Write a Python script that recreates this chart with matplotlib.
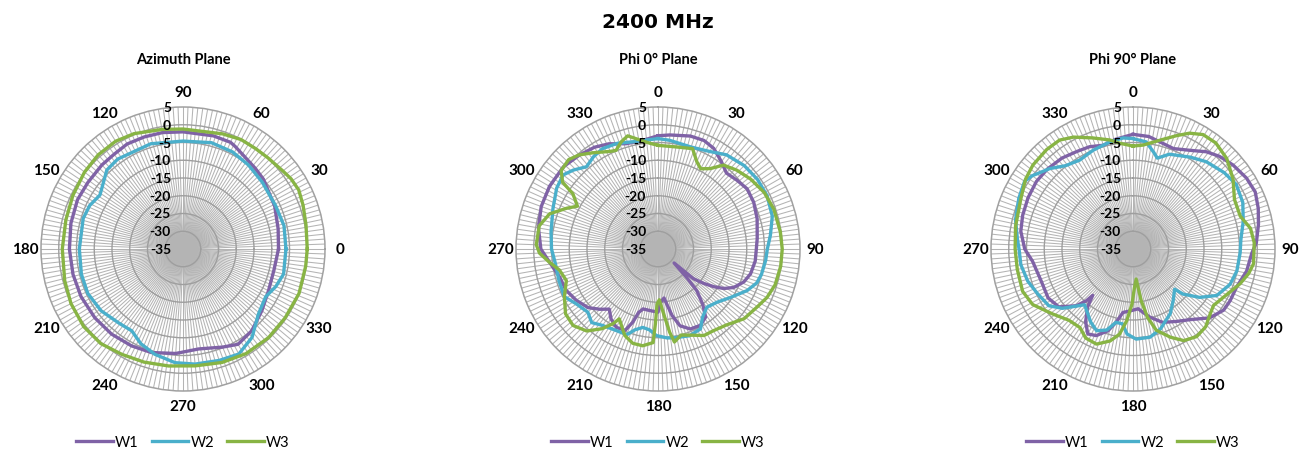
import numpy as np
import matplotlib.pyplot as plt
from matplotlib.transforms import offset_copy

plt.rcParams['font.family'] = ['Lato', 'DejaVu Sans']

# colours of the three series
W1_COLOR = '#7F62A6'
W2_COLOR = '#4AAFCB'
W3_COLOR = '#88B444'
series_names = ['W1', 'W2', 'W3']

# ---- Azimuth plane (angle deg, ccw from right), gain in dB ----
az_w1_ang = [0, 12, 25, 41, 48, 55, 63, 66, 75, 90, 100, 109, 118, 126, 134, 145, 155, 167, 180,
             193, 205, 218, 230, 242, 253, 266, 279, 292, 300, 310, 322, 334, 347]
az_w1_db = [-8.1, -7.6, -6.5, -5.0, -4.5, -3.9, -2.6, -2.1, -2.0, -2.0, -1.7, -1.6, -1.5, -2.0, -2.1,
            -2.3, -2.2, -2.6, -3.0, -3.2, -3.3, -3.5, -3.7, -4.1, -4.5, -5.5, -6.5, -5.2, -4.0, -4.9,
            -6.8, -8.2, -8.7]
az_w2_ang = [0, 13, 25, 40, 52, 63, 75, 90, 107, 126, 134, 142, 147, 155, 163, 180, 194, 205, 217,
             229, 238, 246, 255, 266, 276, 288, 298, 308, 319, 330, 338, 346]
az_w2_db = [-6.0, -5.8, -6.2, -5.8, -5.0, -4.3, -4.0, -4.6, -4.0, -3.7, -4.1, -6.2, -7.1, -6.0, -5.6,
            -5.8, -5.5, -5.4, -6.1, -7.4, -7.8, -5.8, -4.3, -2.9, -2.4, -2.0, -1.5, -3.4, -6.9, -8.1,
            -6.8, -5.8]
az_w3_ang = [0, 11, 20, 27, 33, 38, 47, 54, 62, 71, 90, 100, 113, 122, 132, 142, 154, 166, 180, 195,
             206, 218, 229, 240, 251, 263, 276, 289, 301, 314, 326, 339, 352]
az_w3_db = [0.0, 0.3, 1.0, 1.6, 1.3, 0.7, 0.1, -0.1, -0.1, -0.7, -1.2, -0.8, 0.3, 0.8, 0.7, 0.2, -0.5,
            -1.0, -1.0, -0.5, 0.1, 0.5, 0.3, -0.7, -1.3, -1.8, -1.9, -1.2, -0.6, -0.3, -0.3, 0.0, -0.1]

# ---- Phi 0 plane (angle deg, clockwise from top) ----
p0_w1_ang = [0, 6, 16, 23, 29, 36, 42, 49, 56, 64, 73, 84, 90, 97, 105, 111, 117, 121, 124, 127, 130,
             131, 135, 137, 141, 145, 151, 158, 164, 168, 171, 173, 177, 180, 187, 194, 197, 199, 202,
             208, 214, 219, 224, 230, 238, 246, 254, 262, 270, 280, 290, 300, 311, 320, 328, 335, 343,
             352]
p0_w1_db = [-3.1, -2.7, -1.9, -1.8, -2.6, -4.6, -6.2, -5.5, -4.7, -5.0, -5.8, -6.9, -7.3, -7.4, -8.0,
            -9.1, -11.1, -13.4, -16.0, -18.9, -22.0, -29.0, -23.3, -19.0, -15.0, -11.6, -10.4, -10.7,
            -12.5, -15.8, -19.3, -21.1, -20.0, -17.2, -17.5, -17.6, -16.3, -13.2, -10.3, -10.0, -11.3,
            -13.2, -11.4, -9.3, -7.8, -6.6, -6.2, -4.5, -2.0, -0.8, 0.0, 0.3, 0.3, -0.5, -1.2, -2.3,
            -4.0, -4.1]
p0_w2_ang = [0, 6, 18, 28, 36, 46, 55, 64, 74, 83, 90, 96, 104, 109, 115, 124, 132, 140, 147, 152,
             160, 168, 174, 181, 186, 191, 196, 200, 207, 216, 222, 228, 236, 243, 252, 262, 270, 279,
             291, 301, 308, 313, 319, 325, 331, 339, 347]
p0_w2_db = [-3.9, -4.2, -4.8, -3.9, -2.2, -1.2, -0.8, -0.8, -1.5, -3.1, -4.2, -4.5, -5.0, -5.6, -7.3,
            -10.5, -12.6, -13.6, -12.0, -9.5, -9.0, -9.5, -9.8, -10.6, -12.1, -12.5, -11.3, -9.3, -9.2,
            -8.4, -7.1, -8.4, -7.3, -5.4, -5.7, -5.8, -5.0, -4.5, -3.3, -1.7, -1.1, -2.4, -4.3, -3.3,
            -2.7, -3.1, -4.0]
p0_w3_ang = [0, 10, 19, 24, 28, 33, 38, 45, 53, 62, 71, 82, 90, 98, 107, 114, 120, 129, 138, 146,
             152, 159, 165, 170, 172, 175, 178.5, 181, 182, 183, 189, 195, 201, 209, 211, 215, 221,
             228, 235, 243, 251, 258, 263, 268, 272, 281, 288, 294, 298, 303, 305, 309, 315, 320, 326,
             334, 337, 341, 345, 351, 356]
p0_w3_db = [-5.8, -5.8, -5.1, -8.1, -9.4, -8.0, -5.0, -3.6, -2.3, -1.1, -0.5, -0.2, 0.0, -0.1, -0.5,
            -1.4, -2.6, -3.8, -6.2, -7.2, -7.4, -9.0, -9.9, -8.4, -11.3, -16.6, -20.7, -19.5, -13.9,
            -8.6, -7.4, -7.5, -8.9, -12.5, -10.5, -7.6, -4.4, -2.8, -3.2, -5.4, -7.7, -6.6, -4.2, -1.6,
            -0.7, -0.9, -2.9, -6.8, -9.3, -6.4, -2.2, 0.1, 0.6, -0.4, -2.3, -4.4, -4.8, -3.1, -2.0,
            -4.0, -5.2]

# ---- Phi 90 plane (angle deg, clockwise from top) ----
p90_w1_ang = [0, 8, 16, 22, 30, 37, 43, 50, 58, 65, 72, 79, 87, 92, 101, 110, 118, 124, 132, 141,
              149, 158, 166, 171, 175, 182, 189, 193, 197, 203, 208, 213, 218, 221, 222, 225, 232,
              240, 251, 263, 270, 279, 287, 296, 305, 313, 322, 330, 337, 344, 351]
p90_w1_db = [-2.7, -3.0, -4.1, -4.5, -2.9, -0.7, 0.7, 1.8, 2.7, 3.0, 2.1, 1.0, -0.2, -1.5, -2.4, -3.9,
             -4.0, -4.2, -6.0, -9.4, -11.2, -12.7, -15.2, -16.9, -18.1, -17.6, -16.9, -13.8, -10.9,
             -8.5, -7.9, -10.5, -14.2, -17.7, -15.4, -12.4, -8.5, -7.4, -7.6, -6.5, -4.5, -3.0, -2.5,
             -2.1, -1.8, -2.0, -2.5, -3.3, -3.7, -4.6, -3.7]
p90_w2_ang = [0, 7, 12, 15, 21, 32, 40, 50, 58, 67, 76, 85, 92, 102, 110, 119, 126, 132, 134, 142,
              150, 161, 169, 178, 184, 188, 193, 198, 204, 210, 221, 225, 230, 236, 245, 253, 262,
              270, 275, 284, 294, 302, 306, 314, 321, 329, 338, 348, 355]
p90_w2_db = [-3.9, -4.6, -7.1, -8.5, -6.4, -4.5, -2.9, -1.5, -0.7, -1.4, -3.0, -4.5, -4.8, -5.1, -5.9,
             -8.0, -11.8, -16.0, -18.7, -16.6, -14.0, -11.2, -9.7, -9.6, -11.0, -13.7, -13.8, -11.0,
             -9.8, -11.2, -14.2, -12.2, -9.0, -6.4, -5.3, -4.0, -3.1, -2.9, -2.3, -0.9, 0.2, 1.0, 0.1,
             -2.4, -4.8, -5.8, -5.0, -4.1, -3.6]
p90_w3_ang = [0, 5.5, 14, 21, 26, 31.5, 38, 46, 55, 64, 73, 80, 87, 97, 102, 108, 118, 125, 130, 137,
              144, 151, 157, 164, 168, 171, 174, 178, 181, 185, 189, 194, 201, 208, 214, 222, 231,
              241, 249, 260, 270, 281, 294, 303, 310, 319, 326, 332, 340, 348, 353]
p90_w3_db = [-6.0, -5.6, -3.4, -0.8, 1.3, 2.8, 2.9, 1.7, -0.6, -3.2, -3.4, -1.4, -0.8, -0.8, -1.7,
             -3.3, -6.1, -7.3, -6.6, -5.0, -4.5, -5.5, -8.0, -11.2, -15.3, -20.3, -26.5, -24.0, -19.5,
             -14.7, -10.7, -8.3, -6.3, -6.6, -8.3, -8.0, -5.9, -2.7, -1.7, -1.9, -1.8, -1.3, -0.4,
             1.1, 1.8, 2.1, 2.0, 0.7, -1.7, -3.6, -5.0]

r_ticks = [5, 0, -5, -10, -15, -20, -25, -30, -35]
angle_labels = [0, 30, 60, 90, 120, 150, 180, 210, 240, 270, 300, 330]


def draw_panel(fig, rect, title, curves, zero_loc, direction, top_angle):
    ax = fig.add_axes(rect, projection='polar')
    ax.set_theta_zero_location(zero_loc)
    ax.set_theta_direction(direction)

    # dense spokes like the excel radar chart, labels every 30 deg
    spokes = np.arange(0, 360, 2.0)
    labels = [str(int(a)) if a in angle_labels else '' for a in spokes]
    ax.set_thetagrids(spokes, labels, fontsize=11, fontweight='bold')
    ax.tick_params(axis='x', pad=4, length=0)
    ax.set_rgrids([-30, -25, -20, -15, -10, -5, 0], labels=[''] * 7)
    ax.set_ylim(-35, 5)
    ax.xaxis.grid(True, color='#B4B4B4', lw=0.75)
    ax.yaxis.grid(True, color='#9E9E9E', lw=1.0)
    ax.spines['polar'].set_color('#A0A0A0')
    ax.spines['polar'].set_linewidth(1.1)

    handles = []
    for (ang, db), col in zip(curves, [W1_COLOR, W2_COLOR, W3_COLOR]):
        th = np.deg2rad(ang + [ang[0]])
        r = db + [db[0]]
        h, = ax.plot(th, r, color=col, lw=2.4, solid_joinstyle='round', zorder=3)
        handles.append(h)

    # radial value labels left of the first axis
    tr = offset_copy(ax.transData, fig=fig, x=-12, y=0, units='dots')
    for v in r_ticks:
        ax.text(np.deg2rad(top_angle), v, str(v), transform=tr, ha='right', va='center',
                fontsize=10, fontweight='bold', zorder=5)

    ax.legend(handles, series_names, loc='center', bbox_to_anchor=(0.5, -0.18), ncol=3,
              frameon=False, fontsize=10.5, handlelength=2.5, handletextpad=0.15,
              columnspacing=0.9)
    x_c = rect[0] + rect[2] / 2
    fig.text(x_c, 1 - 60 / 452, title, ha='center', va='center', fontsize=10.5,
             fontweight='bold')
    return ax


fig = plt.figure(figsize=(13.09, 4.52), dpi=100)
W, H = 1309, 452
rad = 142
cy = 250
for cx, title, curves, zl, d, top in [
    (183, 'Azimuth Plane',
     [(az_w1_ang, az_w1_db), (az_w2_ang, az_w2_db), (az_w3_ang, az_w3_db)], 'E', 1, 90),
    (658, 'Phi 0° Plane',
     [(p0_w1_ang, p0_w1_db), (p0_w2_ang, p0_w2_db), (p0_w3_ang, p0_w3_db)], 'N', -1, 0),
    (1133, 'Phi 90° Plane',
     [(p90_w1_ang, p90_w1_db), (p90_w2_ang, p90_w2_db), (p90_w3_ang, p90_w3_db)], 'N', -1, 0),
]:
    rect = [(cx - rad) / W, (H - cy - rad) / H, 2 * rad / W, 2 * rad / H]
    draw_panel(fig, rect, title, curves, zl, d, top)

fig.text(658 / W, 1 - 22 / H, '2400 MHz', ha='center', va='center', fontsize=14.5,
         fontweight='bold', family=['DejaVu Sans'])

fig.savefig('out.png', dpi=100, facecolor='white')
